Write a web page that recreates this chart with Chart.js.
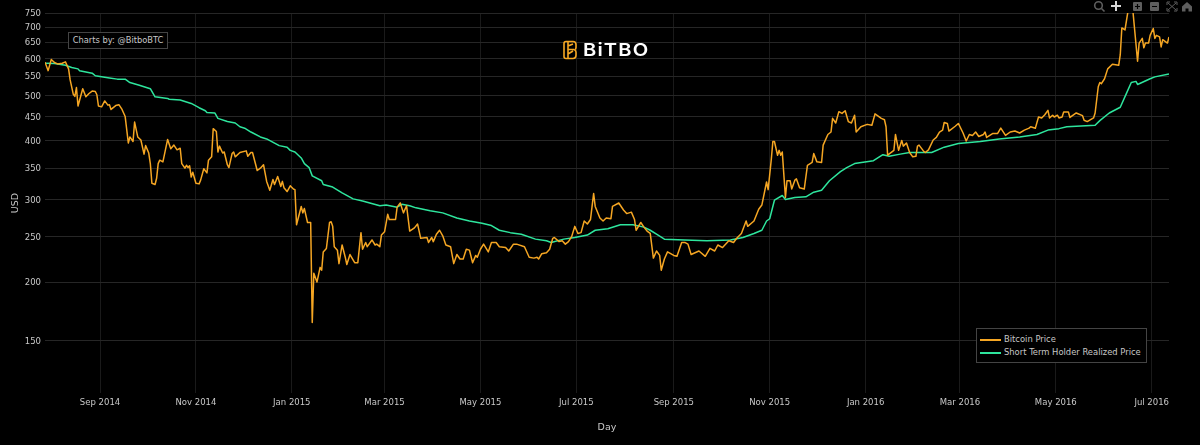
<!DOCTYPE html>
<html>
<head>
<meta charset="utf-8">
<title>Short Term Holder Realized Price</title>
<script src="https://cdn.jsdelivr.net/npm/chart.js@4"></script>
<style>
  html, body { margin: 0; padding: 0; background: #000; overflow: hidden; }
  #wrap { position: relative; width: 1200px; height: 445px; font-family: "DejaVu Sans", sans-serif; color: #c8c8c8; }
  canvas { position: absolute; left: 0; top: 0; }
  .note { position: absolute; left: 68px; top: 32px; width: 100px; height: 17px; box-sizing: border-box; border: 1px solid #444; font-size: 8.3px; line-height: 15px; text-align: center; white-space: nowrap; background: #000; }
  #legend { position: absolute; left: 976px; top: 328px; width: 171px; height: 35px; box-sizing: border-box; border: 1px solid #444; background: #000; font-size: 8.4px; }
  #legend div { position: absolute; left: 27px; white-space: nowrap; }
  #legend i { position: absolute; left: -24px; top: 5px; width: 21px; height: 1.5px; }
  #logo { position: absolute; left: 563px; top: 40px; height: 20px; }
  #logo span { position: absolute; left: 20px; top: 0; font: 600 17.5px/20px Inter, sans-serif; letter-spacing: 1px; color: #fff; transform: scaleX(1.15); transform-origin: left center; }
  #tools { position: absolute; left: 1092px; top: 0; }
</style>
</head>
<body>
<div id="wrap">
  <canvas id="chart" width="1200" height="445"></canvas>
  <div class="note">Charts by: @BitboBTC</div>
  <div id="logo">
    <svg width="15" height="20" viewBox="0 0 15 20" fill="none" stroke="#f7a823" stroke-width="1.6">
      <path d="M3 1.5h7c2 0 3 1.2 3 3v3c0 1.2-.6 2-1.4 2.4.8.5 1.4 1.2 1.4 2.4v3c0 2-1 3.2-3 3.2H3c-1.2 0-2-.8-2-2V3.5c0-1.2.8-2 2-2z"/>
      <path d="M5 2v16M5 9.5h6M5 6l5-2M5 14l5-3"/>
    </svg>
    <span>BiTBO</span>
  </div>
  <svg id="tools" width="104" height="14" viewBox="0 0 104 14">
    <g fill="none" stroke="#5e5e5e" stroke-width="1.6">
      <circle cx="6.500" cy="5.500" r="3.800"/>
      <path d="M9.500 8.500l3 3"/>
    </g>
    <path d="M24 1v10M19 6h10" stroke="#d8d8d8" stroke-width="2"/>
    <g fill="#5e5e5e">
      <rect x="41" y="2" width="9" height="9" rx="1"/>
      <rect x="58" y="2" width="9" height="9" rx="1"/>
      <path d="M79 6.500l5-4.500 5 4.500v5h-3.500v-3h-3v3H79z" transform="translate(11 0)"/>
    </g>
    <path d="M43 6.500h5M45.500 4v5M60 6.500h5" stroke="#000" stroke-width="1.200"/>
    <path d="M75 5V2h3M82 2h3v3M85 8v3h-3M78 11h-3V8M76 3l8 7M84 3l-8 7" fill="none" stroke="#5e5e5e" stroke-width="1"/>
  </svg>
  <div id="legend"></div>
</div>

<script>
// Day numbers count from 2014-07-28
const priceDay = [
  0,2,4,6,8,11,13,15,16,18,19,20,21,24,26,28,30,32,33,34,36,38,40,41,42,45,47,49,51,53,54,56,57,59,61,63,64,66,67,68,70,71,72,73,75,78,80,82,84,86,87,89,90,91,92,93,94,96,98,99,
  101,103,104,106,107,109,110,111,113,114,116,117,119,120,121,124,128,129,131,132,135,137,139,141,143,145,146,148,150,151,152,154,156,158,159,160,163,164,165,167,169,170,171,173,175,176,177,179,181,182,183,184,186,187,189,191,192,194,197,199,
  201,202,204,205,208,210,211,213,214,216,218,219,223,224,226,228,230,232,235,237,239,243,244,246,247,249,251,253,255,258,260,262,264,266,268,270,272,274,275,277,279,282,284,287,289,293,295,298,300,305,308,311,313,314,316,319,321,323,324,327,329,331,333,335,337,339,341,343,345,347,348,349,350,353,355,357,360,361,365,368,370,373,375,376,379,381,383,385,
  387,389,391,392,394,396,400,402,405,407,409,411,416,420,423,426,428,431,435,438,440,443,446,447,451,454,456,459,460,462,463,464,466,467,468,469,471,472,474,475,477,478,480,483,485,488,489,491,494,495,498,500,501,503,505,507,509,511,513,515,516,519,523,526,528,532,534,535,536,540,541,543,545,546,548,550,552,554,555,
  556,559,560,562,565,567,569,571,572,574,575,579,581,584,586,588,590,592,594,597,598,599,603,606,608,611,614,617,620,623,626,627,630,632,634,636,638,639,641,642,644,645,647,648,651,652,656,660,661,663,667,668,670,671,672,674,676,679,683,684,685,687,689,692,695,696,698,699,700,702,703,705,706,707,709,710,711,714,715
];
const priceValue = [
  589,565,597,588,584,586,590,570,540,503,498,520,475,517,497,505,511,510,502,475,473,487,477,478,467,476,478,467,451,396,408,399,439,408,402,375,391,377,358,325,323,333,358,364,361,403,385,392,383,386,358,350,355,351,354,335,343,325,324,330,
  349,342,364,370,425,419,379,390,377,379,356,351,376,379,370,378,381,371,378,378,346,350,356,328,314,331,323,336,320,328,318,312,321,316,315,265,290,281,287,268,268,164,209,200,215,212,232,236,268,269,263,238,234,219,240,226,218,229,220,220,
  255,235,243,238,246,240,241,238,252,256,279,272,272,289,295,281,291,257,261,266,248,249,243,249,244,253,258,251,240,238,219,229,224,224,235,234,220,228,226,235,241,232,243,243,238,237,233,241,241,238,226,225,226,224,230,231,235,248,249,244,245,241,244,250,263,254,255,270,266,272,290,309,290,274,270,274,273,290,295,285,280,282,272,258,268,262,257,254,
  225,233,228,212,224,232,228,227,243,243,241,229,233,227,236,233,240,237,245,243,248,254,270,263,270,286,292,327,315,365,399,399,373,382,373,379,303,329,329,316,330,332,318,316,355,360,376,361,360,392,413,418,447,437,462,458,464,440,437,454,418,429,434,432,457,447,444,429,373,382,413,382,401,390,396,378,370,371,390,
  392,380,378,383,402,407,418,422,438,436,420,430,436,416,400,413,411,418,409,413,418,407,415,415,426,411,418,420,416,422,426,429,426,450,448,455,465,448,454,450,454,448,450,461,461,449,459,453,443,440,448,459,522,533,530,543,570,583,580,611,697,690,760,760,592,647,662,632,647,647,672,695,662,672,667,635,658,647,667
];
const realizedDay = [
  0,6,13,17,21,22,30,32,41,46,51,54,60,67,70,78,79,86,93,98,102,103,108,110,116,121,124,127,131,137,141,149,154,156,159,163,165,168,170,176,177,183,189,196,202,213,
  217,224,227,232,236,245,253,262,270,278,284,289,296,303,312,319,322,330,337,345,350,358,366,374,381,385,389,394,407,421,436,444,451,456,459,461,464,469,471,477,484,489,494,499,506,510,515,527,533,537,
  544,550,564,572,581,595,607,620,631,638,645,650,668,671,677,684,688,691,694,695,703,706,715
];
const realizedValue = [
  586,585,580,574,570,565,558,551,545,542,542,533,526,517,497,493,491,489,481,471,464,460,459,447,440,437,429,426,418,408,404,391,388,382,379,368,358,351,337,329,323,319,310,301,298,291,
  292,289,293,291,288,284,281,274,270,267,264,258,255,253,247,245,243,247,249,252,258,260,265,265,262,258,253,247,246,245,246,249,254,258,270,273,299,306,300,303,304,311,314,329,344,351,358,363,374,371,
  375,378,378,388,395,399,404,408,413,422,425,429,432,442,459,472,506,533,536,528,543,548,556
];
const seriesNames = ["Bitcoin Price", "Short Term Holder Realized Price"];
const yTicks = [150, 200, 250, 300, 350, 400, 450, 500, 550, 600, 650, 700, 750];
const xTickDays = [35, 96, 157, 216, 277, 338, 400, 461, 522, 582, 643, 704];
const xTickLabels = ["Sep 2014", "Nov 2014", "Jan 2015", "Mar 2015", "May 2015", "Jul 2015", "Sep 2015", "Nov 2015", "Jan 2016", "Mar 2016", "May 2016", "Jul 2016"];
const seriesColors = ["#f5a623", "#2ee59d"];

Chart.defaults.font.family = '"DejaVu Sans", sans-serif';
Chart.defaults.font.size = 8.5;
Chart.defaults.color = "#c8c8c8";

const chart = new Chart(document.getElementById("chart"), {
  type: "line",
  data: {
    datasets: [
      { label: seriesNames[0], data: priceDay.map((d, i) => ({ x: d, y: priceValue[i] })), borderColor: seriesColors[0], borderWidth: 1.5 },
      { label: seriesNames[1], data: realizedDay.map((d, i) => ({ x: d, y: realizedValue[i] })), borderColor: seriesColors[1], borderWidth: 1.5 }
    ]
  },
  options: {
    responsive: false,
    animation: false,
    parsing: false,
    events: [],
    elements: { point: { radius: 0 }, line: { tension: 0, borderJoinStyle: "round" } },
    layout: { padding: { top: 13, right: 31, left: 0, bottom: 0 } },
    plugins: { legend: { display: false }, tooltip: { enabled: false } },
    scales: {
      x: {
        type: "linear",
        min: 0,
        max: 715,
        grid: { color: "#1a1a1a", lineWidth: 1, drawTicks: false },
        border: { display: false },
        title: { display: true, text: "Day", color: "#c8c8c8", padding: { top: 0, bottom: 12 }, font: { size: 9.5 } },
        afterBuildTicks: s => { s.ticks = xTickDays.map(v => ({ value: v })); },
        afterFit: s => { s.height = 52; },
        ticks: {
          padding: 5,
          autoSkip: false,
          maxRotation: 0,
          callback: v => xTickLabels[xTickDays.indexOf(v)]
        }
      },
      y: {
        type: "logarithmic",
        min: 116,
        max: 750,
        grid: { color: "#262626", lineWidth: 1, drawTicks: false },
        border: { display: false },
        title: { display: true, text: "USD", color: "#c8c8c8", padding: { top: 10, bottom: 0 }, font: { size: 9.5 } },
        afterBuildTicks: s => { s.ticks = yTicks.map(v => ({ value: v })); },
        afterFit: s => { s.width = 45; },
        ticks: {
          padding: 4,
          autoSkip: false,
          labelOffset: 1,
          callback: v => String(v)
        }
      }
    }
  }
});

// legend lives in the same box style as the note, so build it by hand
const legendBox = document.getElementById("legend");
chart.data.datasets.forEach((ds, i) => {
  const row = document.createElement("div");
  row.style.top = (5 + i * 13) + "px";
  row.textContent = ds.label;
  const swatch = document.createElement("i");
  swatch.style.background = ds.borderColor;
  row.appendChild(swatch);
  legendBox.appendChild(row);
});
</script>
</body>
</html>
